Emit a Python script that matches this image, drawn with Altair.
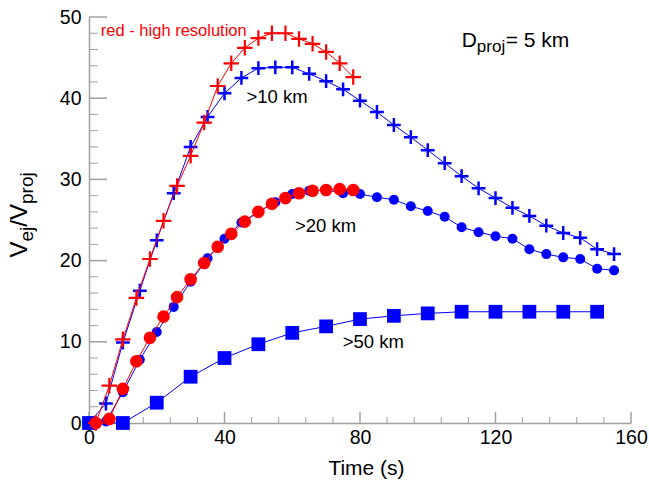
import altair as alt
import pandas as pd

# ---------------- data ----------------
t_5 = [0, 5, 10, 15, 20, 25, 30, 35, 40, 45, 50, 55, 60, 65, 70, 75,
       80, 85, 90, 95, 100, 105, 110, 115, 120, 125, 130, 135, 140, 145, 150, 155]
v_gt10 = [0, 2.4, 9.9, 16.3, 22.5, 28.3, 34.0, 37.7, 40.6, 42.5, 43.7, 43.8, 43.8, 43.0, 42.1, 41.1,
          39.7, 38.3, 36.7, 35.2, 33.6, 32.0, 30.4, 28.9, 27.7, 26.5, 25.5, 24.3, 23.4, 22.8, 21.4, 20.8]
v_gt20 = [0, 0.2, 3.8, 7.8, 11.2, 14.3, 17.4, 20.3, 22.7, 24.7, 26.0, 27.2, 28.2, 28.6, 28.7, 28.3,
          28.2, 27.8, 27.5, 26.7, 26.1, 25.4, 24.1, 23.5, 23.0, 22.7, 21.4, 20.8, 20.4, 20.2, 19.0, 18.8]

t_hr = [2, 6, 10, 14, 18, 22, 26, 30, 34, 38, 42, 46, 50, 54, 58, 62, 66, 70, 74, 78]
v_gt10_hr = [0, 4.6, 10.3, 15.4, 20.2, 24.9, 29.2, 32.9, 37.0, 41.5, 44.3, 46.2, 47.4, 48.0, 48.0,
             47.3, 46.7, 45.7, 44.3, 42.6]
v_gt20_hr = [0, 0.5, 4.2, 7.6, 10.5, 13.1, 15.5, 17.7, 19.7, 21.7, 23.3, 24.8, 26.0, 27.0, 27.7,
             28.3, 28.6, 28.7, 28.8, 28.7]

t_10 = [0, 10, 20, 30, 40, 50, 60, 70, 80, 90, 100, 110, 120, 130, 140, 150]
v_gt50 = [0, 0, 2.5, 5.7, 8.0, 9.7, 11.1, 11.9, 12.8, 13.2, 13.5, 13.7, 13.7, 13.7, 13.7, 13.7]

x_labels = [0, 40, 80, 120, 160]
x_minor = [8, 16, 24, 32, 48, 56, 64, 72, 88, 96, 104, 112, 128, 136, 144, 152]
y_labels = [0, 10, 20, 30, 40, 50]
y_minor = [2, 4, 6, 8, 12, 14, 16, 18, 22, 24, 26, 28, 32, 34, 36, 38, 42, 44, 46, 48]

# annotation texts (anchored in data coordinates)
ann_red = ["red - high resolution"]
ann_black = [">10 km", ">20 km", ">50 km"]
ann_black_t = [46.5, 60.8, 74.9]
ann_black_v = [39.4, 23.5, 9.2]

# ---------------- layout ----------------
W, H = 542, 406
FONT = "Liberation Sans"
BLUE = "#0000ff"
RED = "#ff0000"
GREY = "#a0a0a0"
PLUS = "M-1,0H1M0,-1V1"

xaxis = alt.Axis(values=x_labels, ticks=False, grid=False, domainColor=GREY, domainWidth=1.5,
                 labelFont=FONT, labelFontSize=19.5, labelColor="black", labelPadding=5,
                 labelFlush=False, title="Time (s)", titleFont=FONT, titleFontSize=21,
                 titleFontWeight="normal", titleColor="black", titleBaseline="alphabetic",
                 titleX=W / 2 + 6, titleY=51)
yaxis = alt.Axis(values=y_labels, ticks=False, grid=False, domainColor=GREY, domainWidth=1.5,
                 labelFont=FONT, labelFontSize=19.5, labelColor="black", labelPadding=8,
                 labelFlush=False, title=None)

X = alt.X("t:Q", scale=alt.Scale(domain=[0, 160], nice=False, zero=False), axis=xaxis)
Y = alt.Y("v:Q", scale=alt.Scale(domain=[0, 50], nice=False, zero=False), axis=yaxis)


def series(t, v, color, shape, size, filled, sw=1):
    df = pd.DataFrame({"t": t, "v": v})
    base = alt.Chart(df).encode(x=X, y=Y)
    line = base.mark_line(color=color, strokeWidth=1)
    pts = base.mark_point(shape=shape, size=size, filled=filled, color=color,
                          opacity=1, strokeWidth=sw)
    return [line, pts]


layers = []
# ticks (inward)
layers.append(alt.Chart(pd.DataFrame({"t": x_labels})).mark_rule(color=GREY, strokeWidth=1.5)
              .encode(x=X, y=alt.value(H), y2=alt.value(H - 11)))
layers.append(alt.Chart(pd.DataFrame({"t": x_minor})).mark_rule(color=GREY, strokeWidth=1)
              .encode(x=X, y=alt.value(H), y2=alt.value(H - 6)))
layers.append(alt.Chart(pd.DataFrame({"v": y_labels})).mark_rule(color=GREY, strokeWidth=1.5)
              .encode(y=Y, x=alt.value(0), x2=alt.value(18)))
layers.append(alt.Chart(pd.DataFrame({"v": y_minor})).mark_rule(color=GREY, strokeWidth=1)
              .encode(y=Y, x=alt.value(0), x2=alt.value(9)))

layers += series(t_10, v_gt50, BLUE, "square", 190, True)
layers += series(t_5, v_gt20, BLUE, "circle", 100, True)
layers += series(t_5, v_gt10, BLUE, PLUS, 190, False, 2.5)
layers += series(t_hr, v_gt20_hr, RED, "circle", 160, True)
layers += series(t_hr, v_gt10_hr, RED, PLUS, 240, False, 2.2)

# annotations
layers.append(alt.Chart(pd.DataFrame({"t": [3.5], "v": [47.6], "s": ann_red}))
              .mark_text(font=FONT, fontSize=16.5, color=RED, align="left", baseline="alphabetic")
              .encode(x=X, y=Y, text="s:N"))
layers.append(alt.Chart(pd.DataFrame({"t": ann_black_t, "v": ann_black_v, "s": ann_black}))
              .mark_text(font=FONT, fontSize=18.5, color="black", align="left", baseline="alphabetic")
              .encode(x=X, y=Y, text="s:N"))

# D_proj = 5 km
dp_t, dp_v = 110.0, 46.3
for txt, size, dx, dy in [("D", 21, 0, 0), ("proj", 17, 15.2, 5), ("= 5 km", 21, 44, 0)]:
    layers.append(alt.Chart(pd.DataFrame({"t": [dp_t], "v": [dp_v], "s": [txt]}))
                  .mark_text(font=FONT, fontSize=size, color="black", align="left",
                             baseline="alphabetic", dx=dx, dy=dy)
                  .encode(x=X, y=Y, text="s:N"))

# y-axis title V_ej / V_proj (rotated)
for txt, size, xp, yp in [("V", 24, -62, 240.5), ("ej", 19, -56, 224.5),
                          ("/V", 24, -62, 209.7), ("proj", 19, -56, 187.0)]:
    layers.append(alt.Chart(pd.DataFrame({"s": [txt]}))
                  .mark_text(font=FONT, fontSize=size, color="black", align="left",
                             baseline="alphabetic", angle=270)
                  .encode(x=alt.value(xp), y=alt.value(yp), text="s:N"))

chart = alt.layer(*layers).properties(
    width=W, height=H,
    padding={"left": 89, "top": 17, "right": 18, "bottom": 59},
    autosize=alt.AutoSizeParams(type="none"),
    background="white",
).configure_view(stroke=None)

chart.save("out.html", embed_options={"renderer": "svg", "actions": False})
